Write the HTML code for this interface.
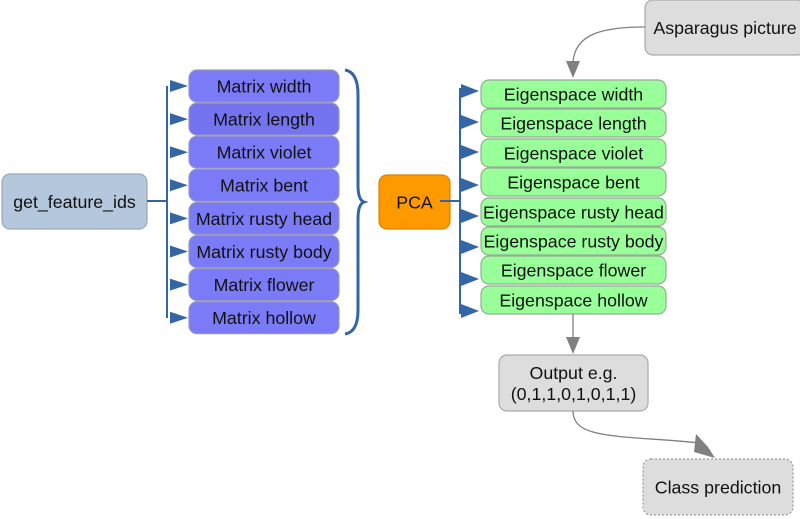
<!DOCTYPE html>
<html><head><meta charset="utf-8"><style>
body{margin:0;background:#fff;}
svg{display:block;font-family:"Liberation Sans",sans-serif;}
</style></head><body>
<svg width="800" height="519" viewBox="0 0 800 519">
<g id="root"></g>
</svg>
<script>
const svg=document.querySelector('svg');
const NS='http://www.w3.org/2000/svg';
function mk(tag,attrs,parent){const e=document.createElementNS(NS,tag);for(const k in attrs)e.setAttribute(k,attrs[k]);(parent||svg).appendChild(e);return e;}
function box(x,y,w,h,fill,stroke,lines,fs,name,dash){
  const g=mk('g',{});
  
  
  const r={x:x,y:y,width:w,height:h,rx:8,fill:fill,stroke:stroke,'stroke-width':1.2};
  if(dash)r['stroke-dasharray']='2,2';
  mk('rect',r,g);
  const n=lines.length;
  lines.forEach((t,i)=>{const tx=mk('text',{x:x+w/2,y:y+h/2+(i-(n-1)/2)*21+fs*0.36,'text-anchor':'middle','font-size':fs,fill:'#111'},g);tx.textContent=t;});
  return g;
}
const blue='#3465a4';
const FS=17.8;
const feats=['width','length','violet','bent','rusty head','rusty body','flower','hollow'];
box(2,174,145,55,'#b4c7dc','#9aa9b8',['get_feature_ids'],FS,'get-feature-ids-box');
mk('line',{x1:147,y1:201,x2:167,y2:201,stroke:blue,'stroke-width':2});
mk('line',{x1:167,y1:86,x2:167,y2:318,stroke:blue,'stroke-width':2});
feats.forEach((f,i)=>{
  const y=70+i*33.1;
  box(189,y,150,32,i==1?'#7474f0':'#7b7bf7','#9999bb',['Matrix '+f],FS,'matrix-'+f.replace(' ','-')+'-box');
  const a=mk('path',{d:`M170,${y+10} L188,${y+16} L170,${y+22} z`,fill:blue});
  
  
});
const br=mk('path',{d:'M345,70 Q358,72 358,95 L358,185 Q358,200 364,202 Q358,204 358,219 L358,310 Q358,332 345,334',fill:'none',stroke:blue,'stroke-width':3});


box(379,175,71,54,'#ff9900','#d98200',['PCA'],FS,'pca-box');
mk('line',{x1:440,y1:201,x2:461,y2:201,stroke:blue,'stroke-width':2});
mk('line',{x1:460,y1:88,x2:460,y2:314,stroke:blue,'stroke-width':2});
const eys=[80,109,139,168,198,227,256,286];
const ays=[91,122,152,185,216,247,279,311];
feats.forEach((f,i)=>{
  box(481,eys[i],185,28,'#99ff99','#99aa99',['Eigenspace '+f],FS,'eigenspace-'+f.replace(' ','-')+'-box');
  const y=ays[i];
  const a=mk('path',{d:`M461,${y-7} L479,${y} L461,${y+7} z`,fill:blue});
  
  
});
box(645,0,160,55,'#dddddd','#aaaaaa',['Asparagus picture'],FS,'asparagus-picture-box');
const gray='#808080';
mk('path',{d:'M645,27 C600,27 575,35 573,62',fill:'none',stroke:gray,'stroke-width':1.3});
mk('path',{d:'M566,61 L580,61 L573,78 z',fill:gray});
mk('line',{x1:573,y1:314,x2:573,y2:338,stroke:gray,'stroke-width':1.3});
mk('path',{d:'M566,337 L580,337 L573,354 z',fill:gray});
box(499,355,149,56,'#dddddd','#aaaaaa',['Output e.g.','(0,1,1,0,1,0,1,1)'],FS,'output-box');
mk('path',{d:'M573,411 C573,440 620,435 700,443',fill:'none',stroke:gray,'stroke-width':1.3});
mk('path',{d:'M696,434 L708,447 L715,458 L694,452 z',fill:gray});
box(643,459,150,56,'#dddddd','#999999',['Class prediction'],FS,'class-prediction-box',true);
</script>
</body></html>
